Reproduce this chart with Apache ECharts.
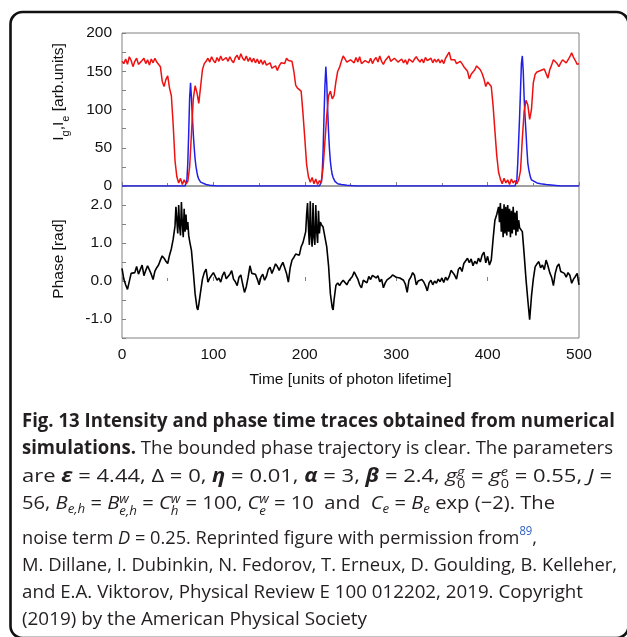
<!DOCTYPE html>
<html><head><meta charset="utf-8">
<script src="https://cdn.jsdelivr.net/npm/echarts@6/dist/echarts.min.js"></script>
<style>
html,body{margin:0;padding:0;background:#fff;}
#chart{position:absolute;left:0;top:0;width:627px;height:637px;}
#cap{position:absolute;left:0;top:0;width:627px;height:637px;pointer-events:none;font-family:'Open Sans',sans-serif;font-size:19px;color:#231f20;}
.ln{position:absolute;left:22px;white-space:nowrap;line-height:20px;transform-origin:0 50%;display:inline-block;}
.ss{display:inline-block;vertical-align:-0.5em;font-size:0.66em;line-height:1em;text-align:left;}
.sb{font-size:0.66em;vertical-align:-0.3em;line-height:0;}
sup.ref{color:#2c5cc5;font-size:0.62em;vertical-align:0.75em;line-height:0;}
</style></head><body>
<div id="chart"></div>
<div id="cap">
<div class="ln" data-w="593" style="top:410px"><b>Fig. 13 Intensity and phase time traces obtained from numerical</b></div>
<div class="ln" data-w="591" style="top:437px"><b>simulations.</b> The bounded phase trajectory is clear. The parameters</div>
<div class="ln" data-w="590" style="top:465px">are <b><i>ε</i></b> = 4.44, Δ = 0, <b><i>η</i></b> = 0.01, <b><i>α</i></b> = 3, <b><i>β</i></b> = 2.4, <i>g</i><span class="ss"><i>g</i><br>0</span> = <i>g</i><span class="ss"><i>e</i><br>0</span> = 0.55, <i>J</i> =</div>
<div class="ln" data-w="533" style="top:492px">56, <i>B</i><span class="sb"><i>e,h</i></span> = <i>B</i><span class="ss"><i>w</i><br><i>e,h</i></span> = <i>C</i><span class="ss"><i>w</i><br><i>h</i></span> = 100, <i>C</i><span class="ss"><i>w</i><br><i>e</i></span> = 10&nbsp; and &nbsp;<i>C</i><span class="sb"><i>e</i></span> = <i>B</i><span class="sb"><i>e</i></span> exp (−2). The</div>
<div class="ln" data-w="515" style="top:527px">noise term <i>D</i> = 0.25. Reprinted figure with permission from<sup class="ref">89</sup>,</div>
<div class="ln" data-w="595" style="top:554px">M. Dillane, I. Dubinkin, N. Fedorov, T. Erneux, D. Goulding, B. Kelleher,</div>
<div class="ln" data-w="561" style="top:581px">and E.A. Viktorov, Physical Review E 100 012202, 2019. Copyright</div>
<div class="ln" data-w="345" style="top:608px">(2019) by the American Physical Society</div>
</div>
<script>
// ---- data ----
const timeTicks = [0, 100, 200, 300, 400, 500];
const intensityTicks = [0, 50, 100, 150, 200];
const phaseTicks = [-1.0, 0.0, 1.0, 2.0];

// I_g (red): [time, intensity]
const intensityG = [[0,163],[2,160],[4,166],[6,159],[8,169],[10,164],[12,156],[14,163],[16,167],[18,159],[20,157],[22,164],[24,167],[26,160],[28,165],[30,158],[32,166],[34,161],[36,167],[38,162],[40,161],[42,156],[44,137],[46,130],[48,139],[50,144],[52,128],[54,118],[56,80],[58,33],[60,12],[62,4],[64,10],[66,2],[68,8],[70,3],[72,6],[74,25],[76,69],[78,114],[80,131],[82,122],[84,108],[86,130],[88,152],[90,160],[92,163],[94,167],[96,162],[98,169],[100,164],[102,161],[104,168],[106,163],[108,170],[110,164],[112,162],[114,168],[116,163],[118,169],[120,164],[122,161],[124,168],[126,171],[128,165],[130,173],[132,167],[134,164],[136,170],[138,163],[140,168],[142,162],[144,167],[146,161],[148,166],[150,160],[152,165],[154,159],[156,164],[158,158],[160,157],[162,161],[164,154],[166,153],[168,157],[170,151],[172,157],[174,161],[176,163],[178,160],[180,167],[182,164],[184,162],[186,163],[188,150],[190,132],[192,128],[194,127],[196,124],[198,95],[200,62],[202,28],[204,12],[206,5],[208,11],[210,3],[212,9],[214,2],[216,7],[218,4],[220,24],[222,58],[224,92],[226,118],[228,124],[230,114],[232,118],[234,136],[236,150],[238,155],[240,163],[242,170],[244,172],[246,162],[248,160],[250,165],[252,167],[254,161],[256,168],[258,162],[260,169],[262,160],[264,158],[266,164],[268,166],[270,161],[272,167],[274,160],[276,165],[278,168],[280,162],[282,170],[284,163],[286,159],[288,164],[290,167],[292,170],[294,163],[296,161],[298,167],[300,166],[302,162],[304,160],[306,166],[308,161],[310,165],[312,159],[314,166],[316,168],[318,162],[320,166],[322,169],[324,165],[326,162],[328,166],[330,161],[332,168],[334,164],[336,162],[338,167],[340,161],[342,166],[344,162],[346,166],[348,161],[350,165],[352,160],[354,167],[356,168],[358,175],[360,165],[362,163],[364,165],[366,160],[368,158],[370,163],[372,160],[374,156],[376,153],[378,150],[380,140],[382,146],[384,144],[386,152],[388,157],[390,155],[392,152],[394,147],[396,140],[398,130],[400,136],[402,138],[404,130],[406,105],[408,72],[410,40],[412,18],[414,9],[416,3],[418,10],[420,4],[422,8],[424,2],[426,9],[428,4],[430,7],[432,3],[434,8],[436,20],[438,62],[440,98],[442,112],[444,106],[446,87],[448,100],[450,135],[452,146],[454,149],[456,150],[458,151],[460,152],[462,153],[464,152],[466,141],[468,152],[470,158],[472,165],[474,163],[476,160],[478,156],[480,161],[482,165],[484,163],[486,161],[488,165],[490,169],[492,174],[494,168],[496,164],[498,159],[500,160]];

// I_e (blue): [time, intensity]
const intensityE = [[0,0],[69,0],[70,2],[71,8],[72,30],[73,70],[74,115],[75,135],[76,115],[77,90],[78,68],[79,50],[80,35],[81,25],[82,18],[83,12],[84,9],[86,5],[88,4],[92,2],[96,1],[104,0],[216,0],[217,2],[218,5],[219,15],[220,45],[221,90],[222,130],[223,156],[224,135],[225,100],[226,70],[227,48],[228,32],[229,22],[230,15],[231,11],[233,6],[236,3],[240,2],[246,1],[256,0],[430,0],[431,2],[432,8],[433,30],[434,60],[435,90],[436,125],[437,160],[438,170],[439,150],[440,115],[441,90],[442,70],[443,48],[444,30],[445,22],[446,16],[447,11],[448,8],[450,6],[454,4],[458,3],[464,2],[472,1],[480,0],[500,0]];

// Phase (black): [time, rad]
const phase = [[0,0.33],[2,0.05],[4,-0.10],[6,-0.22],[8,-0.27],[10,0.20],[12,0.24],[14,0.22],[16,0.38],[18,0.18],[20,0.30],[22,0.42],[24,0.14],[26,0.28],[28,0.40],[30,0.45],[32,0.18],[34,0.04],[36,0.26],[38,0.35],[40,0.42],[42,0.55],[44,0.66],[46,0.60],[48,0.52],[50,0.46],[52,0.68],[54,0.85],[56,1.10],[58,1.45],[59,1.95],[60,1.60],[61,1.25],[62,2.00],[63,1.45],[64,1.20],[65,2.08],[66,1.50],[67,1.15],[68,1.90],[69,1.30],[70,1.75],[71,1.35],[72,1.55],[73,1.20],[74,1.05],[76,0.80],[78,0.25],[80,-0.34],[82,-0.70],[83,-0.76],[84,-0.62],[86,-0.28],[88,0.05],[90,0.22],[92,0.31],[94,-0.03],[96,0.08],[98,0.05],[100,0.22],[102,0.12],[104,0.02],[106,0.08],[108,-0.03],[110,0.15],[112,0.24],[114,0.06],[116,0.01],[118,0.18],[120,0.27],[122,0.05],[124,-0.02],[126,-0.12],[128,0.10],[130,0.16],[132,-0.08],[134,-0.30],[136,-0.15],[138,0.10],[140,0.40],[142,0.20],[144,0.15],[146,0.18],[148,0.05],[150,-0.10],[152,0.10],[154,0.18],[156,0.02],[158,0.12],[160,0.30],[162,0.36],[164,0.20],[166,0.32],[168,0.45],[170,0.38],[172,0.28],[174,0.40],[176,0.49],[178,0.35],[180,0.20],[182,-0.03],[184,0.35],[186,0.55],[188,0.62],[190,0.71],[192,0.66],[194,0.68],[196,0.90],[198,1.01],[200,1.06],[201,1.30],[202,1.75],[203,2.05],[204,1.40],[205,0.95],[206,2.10],[207,1.20],[208,0.90],[209,2.05],[210,1.15],[211,0.95],[212,2.00],[213,1.30],[214,1.00],[215,1.85],[216,1.25],[217,1.55],[218,1.49],[220,1.42],[222,1.40],[224,0.90],[226,0.40],[228,-0.34],[230,-0.70],[231,-0.76],[232,-0.50],[234,-0.12],[236,-0.05],[238,-0.12],[240,-0.04],[242,0.02],[244,-0.02],[246,-0.10],[248,0.00],[250,0.06],[252,0.12],[254,0.24],[256,0.20],[258,0.05],[260,-0.10],[262,-0.18],[264,0.02],[266,0.06],[268,-0.05],[270,0.12],[272,0.04],[274,0.15],[276,0.20],[278,0.08],[280,0.14],[282,-0.02],[284,0.05],[286,-0.18],[288,-0.05],[290,0.03],[292,-0.02],[294,0.10],[296,0.16],[298,0.18],[300,0.10],[302,0.14],[304,0.08],[306,0.12],[308,0.02],[310,-0.08],[312,-0.30],[314,0.02],[316,0.10],[318,0.22],[320,0.15],[322,-0.10],[324,0.00],[326,-0.05],[328,0.04],[330,-0.02],[332,-0.12],[334,-0.26],[336,-0.05],[338,0.02],[340,-0.10],[342,0.00],[344,-0.06],[346,0.05],[348,-0.02],[350,0.08],[352,-0.04],[354,0.10],[356,0.02],[358,0.12],[360,0.28],[362,0.22],[364,0.15],[366,0.05],[368,0.30],[370,0.36],[372,0.25],[374,0.46],[376,0.50],[378,0.60],[380,0.48],[382,0.58],[384,0.40],[386,0.52],[388,0.45],[390,0.60],[392,0.50],[394,0.68],[396,0.76],[398,0.48],[400,0.65],[402,0.42],[404,0.55],[406,1.10],[408,1.60],[410,1.75],[412,1.95],[413,1.55],[414,2.05],[415,1.30],[416,1.90],[417,1.15],[418,2.02],[419,1.25],[420,1.95],[421,1.20],[422,2.00],[423,1.30],[424,1.90],[425,1.15],[426,1.85],[427,1.25],[428,1.95],[429,1.35],[430,1.80],[431,1.20],[432,1.85],[433,1.30],[434,1.60],[435,1.40],[436,1.45],[438,1.30],[440,0.70],[442,0.05],[444,-0.50],[446,-1.02],[448,-0.40],[450,0.05],[452,0.37],[454,0.45],[456,0.51],[458,0.35],[460,0.42],[462,0.30],[464,0.55],[466,0.40],[468,0.22],[470,0.10],[472,-0.12],[474,0.20],[476,0.38],[478,0.45],[480,0.25],[482,0.30],[484,0.20],[486,0.10],[488,0.22],[490,0.15],[492,-0.06],[494,0.05],[496,0.12],[498,0.20],[500,-0.10]];

// ---- chart ----
const FONT = "'Liberation Sans', Arial, Helvetica, sans-serif";
const GRAY = '#808080';
const TXT = '#111';
const FS = 15.5;

const chart = echarts.init(document.getElementById('chart'), null, {renderer: 'canvas'});

function xAxisDef(gi, showLabels) {
  const a = {
    gridIndex: gi, type: 'value', min: timeTicks[0], max: timeTicks[timeTicks.length - 1], interval: timeTicks[1] - timeTicks[0],
    axisLine: {show: false},
    axisTick: {show: true, inside: true, length: 4, lineStyle: {color: GRAY, width: 1}},
    minorTick: {show: true, splitNumber: 2, length: 3, lineStyle: {color: GRAY, width: 1}},
    splitLine: {show: false},
    axisLabel: {show: showLabels, fontSize: FS, color: TXT, fontFamily: FONT, margin: 9}
  };
  if (showLabels) {
    a.name = 'Time [units of photon lifetime]';
    a.nameLocation = 'middle';
    a.nameGap = 34;
    a.nameTextStyle = {fontSize: FS, color: TXT, fontFamily: FONT};
  }
  return a;
}

const option = {
  animation: false,
  backgroundColor: '#fff',
  grid: [
    {left: 122, top: 33, width: 457, height: 153, show: true, borderColor: GRAY, borderWidth: 1, backgroundColor: 'transparent'},
    {left: 122, top: 186, width: 457, height: 152, show: true, borderColor: GRAY, borderWidth: 1, backgroundColor: 'transparent'}
  ],
  xAxis: [xAxisDef(0, false), xAxisDef(1, true)],
  yAxis: [
    {
      gridIndex: 0, type: 'value', min: intensityTicks[0], max: intensityTicks[intensityTicks.length - 1], interval: 25,
      axisLine: {show: false},
      axisTick: {show: true, inside: true, length: 4, lineStyle: {color: GRAY}},
      splitLine: {show: false},
      axisLabel: {fontSize: FS, color: TXT, fontFamily: FONT, margin: 10,
        formatter: v => intensityTicks.indexOf(v) >= 0 ? String(v) : ''}
    },
    {
      gridIndex: 1, type: 'value', min: -1.5, max: 2.5, interval: 0.5,
      axisLine: {show: false},
      axisTick: {show: true, inside: true, length: 4, lineStyle: {color: GRAY}},
      splitLine: {show: false},
      axisLabel: {fontSize: FS, color: TXT, fontFamily: FONT, margin: 10, showMaxLabel: false,
        formatter: v => phaseTicks.indexOf(v) >= 0 ? v.toFixed(1) : ''}
    }
  ],
  graphic: [
    {type: 'rect', silent: true, z: 100,
      shape: {x: 10.5, y: 12, width: 618, height: 626, r: 12},
      style: {fill: 'none', stroke: '#111', lineWidth: 2.6}},
    {type: 'text', x: 59, y: 92, rotation: Math.PI / 2, z: 100,
      style: {
        text: '{n|I}{s|g}{n|,I}{s|e}{n| [arb.units]}',
        align: 'center', verticalAlign: 'middle', fill: TXT,
        rich: {
          n: {fontSize: FS, fontFamily: FONT, lineHeight: 24, fill: TXT},
          s: {fontSize: 11, fontFamily: FONT, lineHeight: 11, verticalAlign: 'bottom', fill: TXT}
        }
      }},
    {type: 'text', x: 59, y: 259, rotation: Math.PI / 2, z: 100,
      style: {text: 'Phase [rad]', fontSize: FS, fontFamily: FONT, align: 'center', verticalAlign: 'middle', fill: TXT}}
  ],
  series: [
    {name: 'Ie', type: 'line', xAxisIndex: 0, yAxisIndex: 0, data: intensityE, showSymbol: false, symbol: 'none',
      lineStyle: {color: '#1f1fe8', width: 1.5}, z: 2},
    {name: 'Ig', type: 'line', xAxisIndex: 0, yAxisIndex: 0, data: intensityG, showSymbol: false, symbol: 'none',
      lineStyle: {color: '#ee1111', width: 1.5}, z: 3},
    {name: 'Phase', type: 'line', xAxisIndex: 1, yAxisIndex: 1, data: phase, showSymbol: false, symbol: 'none',
      lineStyle: {color: '#000', width: 1.6}, z: 3}
  ]
};
chart.setOption(option);

// fit caption lines to the measured widths of the reference
document.querySelectorAll('#cap .ln').forEach(el => {
  const target = parseFloat(el.getAttribute('data-w'));
  const w = el.getBoundingClientRect().width;
  if (w > 0) el.style.transform = 'scaleX(' + (target / w) + ')';
});
</script>
</body></html>
